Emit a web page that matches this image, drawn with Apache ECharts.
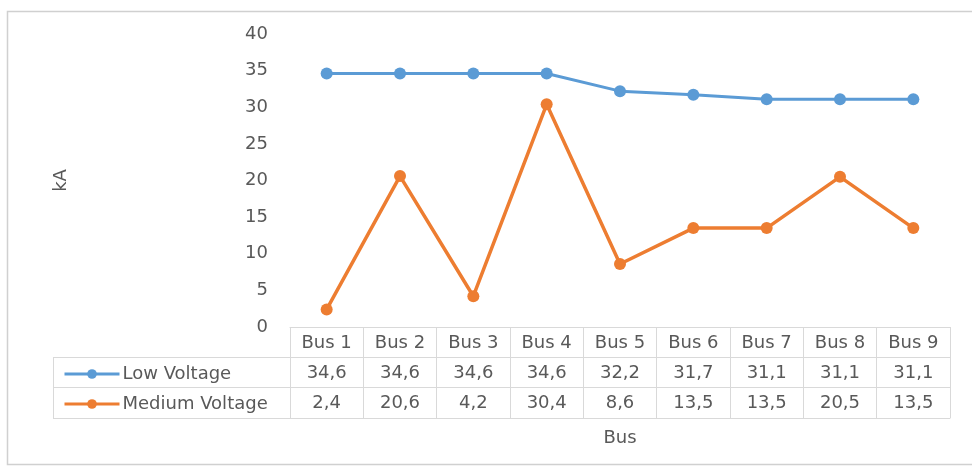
<!DOCTYPE html>
<meta charset="utf-8">
<style>
html, body { margin: 0; padding: 0; background: #fff; }
#main { width: 972px; height: 467px; }
</style>
<div id="main"></div>
<script src="https://cdn.jsdelivr.net/npm/echarts@6/dist/echarts.min.js"></script>
<script>
var buses = ['Bus 1', 'Bus 2', 'Bus 3', 'Bus 4', 'Bus 5', 'Bus 6', 'Bus 7', 'Bus 8', 'Bus 9'];
var lowVoltage = [34.6, 34.6, 34.6, 34.6, 32.2, 31.7, 31.1, 31.1, 31.1];
var mediumVoltage = [2.4, 20.6, 4.2, 30.4, 8.6, 13.5, 13.5, 20.5, 13.5];
var yTicks = [0, 5, 10, 15, 20, 25, 30, 35, 40];

var FONT = 'DejaVu Sans';
var FS = 18;
var TXT = '#595959';
var LINE = '#d9d9d9';

// grid box, table rows hang below it
var G = { left: 290, right: 22, top: 34, bottom: 140 };
var ROW = [30, 60, 91];
var H = 467;

function fmt(v) { return v.toFixed(1).replace('.', ','); }

function rowAxis(offset, values, extra) {
    var ax = {
        type: 'category',
        gridIndex: 0,
        position: 'bottom',
        offset: offset,
        data: buses,
        axisLine: { show: true, lineStyle: { color: LINE, width: 1 } },
        axisTick: { show: false },
        axisLabel: {
            show: !!values,
            margin: 7,
            color: TXT,
            fontFamily: FONT,
            fontSize: FS,
            formatter: function (v, i) { return values ? fmt(values[i]) : ''; }
        },
        splitLine: { show: false }
    };
    return Object.assign(ax, extra || {});
}

var chart = echarts.init(document.getElementById('main'));
var lineY = H - G.bottom;
var tableLines = ROW.map(function (o) {
    return {
        type: 'line',
        shape: { x1: 53, y1: lineY + o + 0.5, x2: G.left, y2: lineY + o + 0.5 },
        style: { stroke: LINE, lineWidth: 1 }
    };
});
tableLines.push({
    type: 'line',
    shape: { x1: 53.5, y1: lineY + ROW[0], x2: 53.5, y2: lineY + ROW[2] },
    style: { stroke: LINE, lineWidth: 1 }
});

chart.setOption({
    animation: false,
    backgroundColor: '#fff',
    textStyle: { fontFamily: FONT },
    graphic: [{
        type: 'rect',
        shape: { x: 7.5, y: 11.5, width: 990, height: 453 },
        style: { fill: 'none', stroke: '#d0d0d0', lineWidth: 1.5 }
    }].concat(tableLines),
    grid: G,
    legend: {
        orient: 'vertical',
        left: 58,
        top: lineY + ROW[0] + 3,
        itemWidth: 55,
        itemHeight: 12,
        itemGap: 12,
        lineStyle: { width: 3 },
        textStyle: { color: TXT, fontFamily: FONT, fontSize: FS, padding: [0, 0, 0, -2] },
        data: ['Low Voltage', 'Medium Voltage']
    },
    xAxis: [
        {
            type: 'category',
            data: buses,
            position: 'bottom',
            axisLine: { show: true, lineStyle: { color: LINE } },
            axisTick: { show: true, inside: false, length: ROW[2], lineStyle: { color: LINE } },
            axisLabel: { color: TXT, fontFamily: FONT, fontSize: FS, margin: 7 },
            splitLine: { show: false }
        },
        rowAxis(ROW[0], lowVoltage),
        rowAxis(ROW[1], mediumVoltage),
        rowAxis(ROW[2], null, {
            name: 'Bus',
            nameLocation: 'middle',
            nameGap: 11,
            nameTextStyle: { color: TXT, fontFamily: FONT, fontSize: FS }
        })
    ],
    yAxis: {
        type: 'value',
        min: yTicks[0],
        max: yTicks[yTicks.length - 1],
        interval: 5,
        name: 'kA',
        nameLocation: 'middle',
        nameGap: 220,
        nameTextStyle: { color: TXT, fontFamily: FONT, fontSize: FS },
        axisLine: { show: false },
        axisTick: { show: false },
        splitLine: { show: false },
        axisLabel: { color: TXT, fontFamily: FONT, fontSize: FS, margin: 22 }
    },
    series: [
        {
            name: 'Low Voltage',
            type: 'line',
            data: lowVoltage,
            symbol: 'circle',
            symbolSize: 12,
            color: '#5b9bd5',
            lineStyle: { width: 3, color: '#5b9bd5' },
            itemStyle: { color: '#5b9bd5' }
        },
        {
            name: 'Medium Voltage',
            type: 'line',
            data: mediumVoltage,
            symbol: 'circle',
            symbolSize: 12,
            color: '#ed7d31',
            lineStyle: { width: 3.5, color: '#ed7d31' },
            itemStyle: { color: '#ed7d31' }
        }
    ]
});
</script>
